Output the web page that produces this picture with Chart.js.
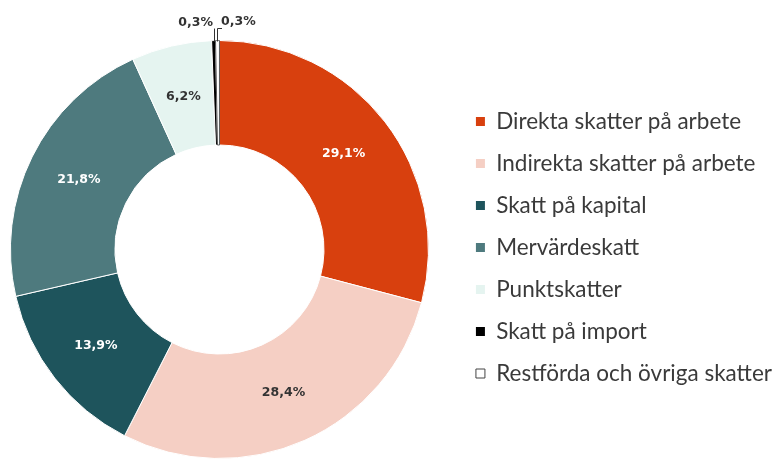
<!DOCTYPE html>
<html>
<head>
<meta charset="utf-8">
<script src="https://cdn.jsdelivr.net/npm/chart.js"></script>
<style>
  html, body { margin: 0; padding: 0; background: #fff; }
  #wrap { width: 776px; height: 459px; }
</style>
</head>
<body>
<div id="wrap"><canvas id="chart"></canvas></div>
<script>
// data
const categories = [
    "Direkta skatter på arbete",
    "Indirekta skatter på arbete",
    "Skatt på kapital",
    "Mervärdeskatt",
    "Punktskatter",
    "Skatt på import",
    "Restförda och övriga skatter"
];
const shares = [29.1, 28.4, 13.9, 21.8, 6.2, 0.3, 0.3];
const sliceColors = ["#d8400e", "#f5cfc4", "#1e545c", "#4e7a7e", "#e5f4f0", "#000000", "#ffffff"];
const labelColors = ["#ffffff", "#333333", "#ffffff", "#ffffff", "#333333", "#333333", "#333333"];

const fmt = v => v.toFixed(1).replace(".", ",") + "%";

// nudge the pie area: a bit more gap before the legend, full height below
const pieArea = {
    id: "pieArea",
    afterLayout(chart) {
        const a = chart.chartArea;
        a.right -= 17.5;
        a.bottom += 4;
        a.width = a.right - a.left;
        a.height = a.bottom - a.top;
    }
};

// labels inside slices, small slices get a leader line to the top
const sliceLabels = {
    id: "sliceLabels",
    afterDatasetsDraw(chart) {
        const ctx = chart.ctx;
        const arcs = chart.getDatasetMeta(0).data;
        ctx.save();
        ctx.font = "bold 12.5px 'DejaVu Sans'";
        ctx.textBaseline = "middle";
        let smallCount = 0;
        arcs.forEach((arc, i) => {
            const v = shares[i];
            if (v >= 1) {
                const p = arc.tooltipPosition();
                ctx.fillStyle = labelColors[i];
                ctx.textAlign = "center";
                ctx.fillText(fmt(v), p.x, p.y);
            } else {
                const { x, y, startAngle, endAngle, outerRadius } = arc.getProps(["x", "y", "startAngle", "endAngle", "outerRadius"], true);
                const mid = (startAngle + endAngle) / 2;
                const px = x + Math.cos(mid) * outerRadius;
                const py = y + Math.sin(mid) * outerRadius;
                const topY = py - 12;
                ctx.strokeStyle = "#333333";
                ctx.lineWidth = 1;
                ctx.beginPath();
                ctx.moveTo(Math.round(px) + 0.5, py + 1);
                ctx.lineTo(Math.round(px) + 0.5, topY);
                if (smallCount === 1) ctx.lineTo(Math.round(px) + 5, topY);
                ctx.stroke();
                ctx.fillStyle = "#333333";
                if (smallCount === 0) {
                    ctx.textAlign = "right";
                    ctx.fillText(fmt(v), Math.round(px) - 1, topY - 6);
                } else {
                    ctx.textAlign = "left";
                    ctx.fillText(fmt(v), Math.round(px) + 4, topY - 7);
                }
                smallCount++;
            }
        });
        ctx.restore();
    }
};

new Chart(document.getElementById("chart"), {
    type: "doughnut",
    data: {
        labels: categories,
        datasets: [{
            data: shares,
            backgroundColor: sliceColors,
            borderColor: ["#fff", "#fff", "#fff", "#fff", "#fff", "#fff", "#555"],
            borderWidth: 1
        }]
    },
    options: {
        responsive: true,
        maintainAspectRatio: false,
        animation: false,
        cutout: "50%",
        layout: { padding: { top: 40, bottom: 4, left: 0, right: -6 } },
        plugins: {
            tooltip: { enabled: false },
            legend: {
                position: "right",
                labels: {
                    boxWidth: 9,
                    boxHeight: 9,
                    padding: 19.5,
                    color: "#3a3a3a",
                    font: { family: "Lato", size: 22.5 },
                    generateLabels: () => categories.map((t, i) => ({
                        text: t,
                        fillStyle: sliceColors[i],
                        strokeStyle: i === 6 ? "#444" : sliceColors[i],
                        lineWidth: i === 6 ? 1 : 0,
                        fontColor: "#3a3a3a",
                        hidden: false,
                        index: i
                    }))
                }
            }
        }
    },
    plugins: [pieArea, sliceLabels]
});
</script>
</body>
</html>
